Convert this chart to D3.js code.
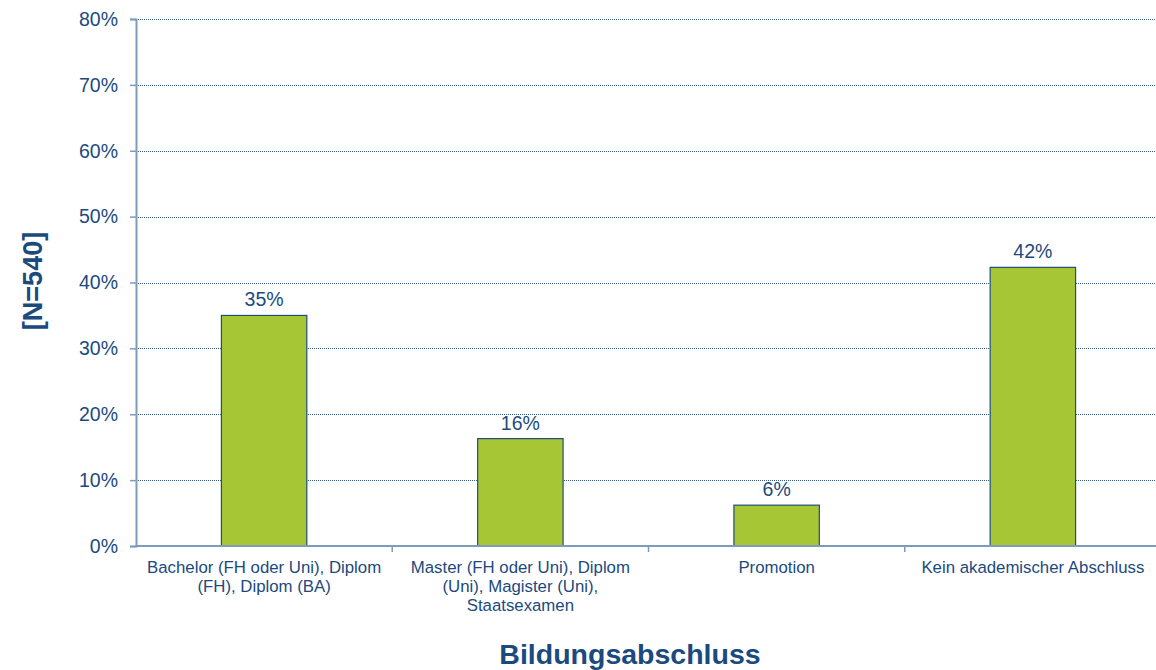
<!DOCTYPE html>
<html>
<head>
<meta charset="utf-8">
<script src="https://cdn.jsdelivr.net/npm/d3@7"></script>
<style>
  body { margin: 0; background: #fff; overflow: hidden; }
  svg text { font-family: "Liberation Sans", Arial, sans-serif; fill: #1b4a7e; }
</style>
</head>
<body>
<svg id="chart" width="1156" height="670"></svg>
<script>
// values
const categories = [
  ["Bachelor (FH oder Uni), Diplom", "(FH), Diplom (BA)"],
  ["Master (FH oder Uni), Diplom", "(Uni), Magister (Uni),", "Staatsexamen"],
  ["Promotion"],
  ["Kein akademischer Abschluss"]
];
const shares = [35.0, 16.3, 6.2, 42.3];
const yTicks = [0, 10, 20, 30, 40, 50, 60, 70, 80];

const svg = d3.select("#chart");
// plot area runs a little past the right edge of the picture
const margin = { top: 19, right: -5, bottom: 124, left: 136 };
const width = 1156 - margin.left - margin.right;
const height = 670 - margin.top - margin.bottom;

const g = svg.append("g").attr("transform", `translate(${margin.left},${margin.top})`);

const x = d3.scaleBand().domain(d3.range(categories.length)).range([0, width]);
const y = d3.scaleLinear().domain([0, 80]).range([height, 0]);

// grid lines
g.selectAll("line.grid")
  .data(yTicks.filter((d) => d > 0))
  .enter()
  .append("line")
  .attr("class", "grid")
  .attr("x1", 0)
  .attr("x2", width)
  .attr("y1", (d) => Math.round(y(d)) + 0.5)
  .attr("y2", (d) => Math.round(y(d)) + 0.5)
  .attr("stroke", "#2f5f90")
  .attr("stroke-width", 1)
  .attr("stroke-dasharray", "1,1");

// bars
const barW = x.bandwidth() / 3;
g.selectAll("rect.bar")
  .data(shares)
  .enter()
  .append("rect")
  .attr("class", "bar")
  .attr("x", (d, i) => x(i) + x.bandwidth() / 2 - barW / 2)
  .attr("y", (d) => y(d))
  .attr("width", barW)
  .attr("height", (d) => height - y(d))
  .attr("fill", "#a7c636")
  .attr("stroke", "#1f4e79")
  .attr("stroke-width", 1.2);

// value labels
g.selectAll("text.val")
  .data(shares)
  .enter()
  .append("text")
  .attr("class", "val")
  .attr("x", (d, i) => x(i) + x.bandwidth() / 2)
  .attr("y", (d) => y(d) - 9)
  .attr("text-anchor", "middle")
  .attr("font-size", 19.5)
  .text((d) => Math.round(d) + "%");

// y axis
const yAxis = g.append("g").call(
  d3.axisLeft(y).tickValues(yTicks).tickFormat((d) => d + "%").tickSize(6).tickPadding(12)
);
yAxis.select(".domain").attr("stroke", "#7e9bb9").attr("stroke-width", 2);
yAxis.selectAll(".tick line").attr("stroke", "#7e9bb9").attr("stroke-width", 1.5);
yAxis.selectAll(".tick text").attr("font-size", 19.5).attr("fill", "#1b4a7e")
  .attr("font-family", "Liberation Sans, Arial, sans-serif");

// x axis
const xAxis = g.append("g").attr("transform", `translate(0,${height})`);
xAxis.append("line")
  .attr("x1", 0).attr("x2", width)
  .attr("y1", 0).attr("y2", 0)
  .attr("stroke", "#7e9bb9").attr("stroke-width", 2);
xAxis.selectAll("line.tick")
  .data(d3.range(1, categories.length))
  .enter()
  .append("line")
  .attr("class", "tick")
  .attr("x1", (d) => x(d)).attr("x2", (d) => x(d))
  .attr("y1", 0).attr("y2", 6)
  .attr("stroke", "#7e9bb9").attr("stroke-width", 1.5);

const catLabel = xAxis.selectAll("text.cat")
  .data(categories)
  .enter()
  .append("text")
  .attr("class", "cat")
  .attr("text-anchor", "middle")
  .attr("font-size", 16.8)
  .attr("x", (d, i) => x(i) + x.bandwidth() / 2)
  .attr("y", 27);
catLabel.selectAll("tspan")
  .data((d, i) => d.map((line) => ({ line, i })))
  .enter()
  .append("tspan")
  .attr("x", (d) => x(d.i) + x.bandwidth() / 2)
  .attr("dy", (d, j) => (j === 0 ? 0 : 19))
  .text((d) => d.line);

// axis titles
svg.append("text")
  .attr("x", 630)
  .attr("y", 664)
  .attr("text-anchor", "middle")
  .attr("font-size", 28.5)
  .attr("font-weight", "bold")
  .text("Bildungsabschluss");

svg.append("text")
  .attr("transform", "translate(42,281) rotate(-90)")
  .attr("text-anchor", "middle")
  .attr("font-size", 27)
  .attr("font-weight", "bold")
  .text("[N=540]");
</script>
</body>
</html>
